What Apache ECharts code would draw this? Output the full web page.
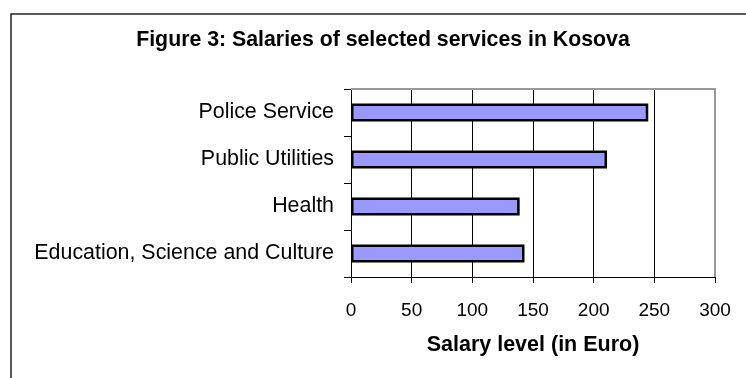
<!DOCTYPE html>
<html><head><meta charset="utf-8">
<script src="https://cdn.jsdelivr.net/npm/echarts@6/dist/echarts.min.js"></script>
<style>html,body{margin:0;padding:0;background:#fff}#c{width:746px;height:378px}</style>
</head><body><div id="c"></div>
<script>
const categories = ["Education, Science and Culture", "Health", "Public Utilities", "Police Service"];
const salaries = [143, 139, 211, 245];
const xTicks = [0, 50, 100, 150, 200, 250, 300];

const chart = echarts.init(document.getElementById('c'), null, {renderer: 'canvas'});
const F = 'Liberation Sans, Arial, sans-serif';
chart.setOption({
  animation: false,
  backgroundColor: '#fff',
  title: {
    text: 'Figure 3: Salaries of selected services in Kosova',
    left: 383, top: 30, textAlign: 'center', padding: 0,
    textStyle: {fontFamily: F, fontWeight: 'bold', fontSize: 21.3, color: '#000'}
  },
  graphic: [
    {type: 'polyline', shape: {points: [[11, 378], [11, 14], [746, 14]]}, style: {stroke: '#222', lineWidth: 1.5, fill: null}},
    {type: 'polyline', shape: {points: [[351, 89], [715, 89], [715, 277]]}, style: {stroke: '#999', lineWidth: 2, fill: null}, z: 10}
  ],
  grid: {left: 351, right: 31, top: 89, bottom: 101, containLabel: false},
  xAxis: {
    type: 'value', min: 0, max: 300, interval: 50,
    name: 'Salary level (in Euro)', nameLocation: 'middle', nameGap: 57,
    nameTextStyle: {fontFamily: F, fontWeight: 'bold', fontSize: 21.5, color: '#000'},
    axisLine: {show: true, lineStyle: {color: '#000', width: 1}},
    axisTick: {show: true, length: 6, lineStyle: {color: '#000'}},
    axisLabel: {fontFamily: F, fontSize: 19, color: '#000', margin: 24,
      formatter: v => xTicks.includes(v) ? String(v) : ''},
    splitLine: {show: true, lineStyle: {color: '#000', width: 1}}
  },
  yAxis: {
    type: 'category', data: categories,
    axisLine: {show: true, lineStyle: {color: '#000', width: 1}},
    axisTick: {show: true, length: 7, lineStyle: {color: '#000'}},
    axisLabel: {fontFamily: F, fontSize: 21.4, color: '#000', margin: 17},
    splitLine: {show: false}
  },
  series: [{
    type: 'bar', data: salaries, barWidth: 18,
    itemStyle: {color: '#9999FF', borderColor: '#000', borderWidth: 2.5}
  }]
});
</script></body></html>
